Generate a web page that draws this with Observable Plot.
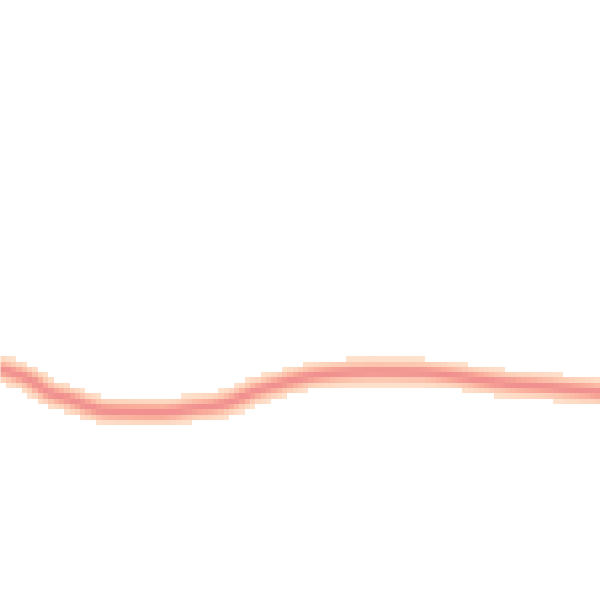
<!DOCTYPE html>
<html>
<head>
<meta charset="utf-8">
<script src="https://cdn.jsdelivr.net/npm/d3@7"></script>
<script src="https://cdn.jsdelivr.net/npm/@observablehq/plot@0.6"></script>
<style>
  html, body { margin: 0; padding: 0; background: #fff; }
  #chart svg { display: block; }
</style>
</head>
<body>
<div id="chart"></div>
<script>
// Centre line of the band (x 0–100, y 0–100 upward)
const curveX = [0, 5, 8, 11, 18, 27, 32, 38, 40, 42, 45.5, 54, 62, 70, 75, 83, 92, 100];
const curveY = [38.5, 36.7, 34.7, 33.7, 31.6, 31.4, 32, 33, 33.8, 34.7, 35.8, 37.7, 38.1, 38, 37.5, 36.3, 35.5, 34.7];

const W = 600, H = 600;
const xs = d3.scaleLinear([0, 100], [0, W]);
const ys = d3.scaleLinear([0, 100], [H, 0]);

// Sample the smooth centre line densely
const svgNS = "http://www.w3.org/2000/svg";
const tmpSvg = document.createElementNS(svgNS, "svg");
tmpSvg.setAttribute("style", "position:absolute;width:0;height:0");
document.body.appendChild(tmpSvg);
const path = document.createElementNS(svgNS, "path");
path.setAttribute("d", d3.line().curve(d3.curveMonotoneX)(curveX.map((x, i) => [xs(x), ys(curveY[i])])));
tmpSvg.appendChild(path);
const len = path.getTotalLength();
const samples = [];
for (let s = 0; s <= len; s += 1) { const p = path.getPointAtLength(s); samples.push([p.x, p.y]); }
tmpSvg.remove();

const sigma = 9.5;
function intensity(x, y) {
  const px = xs(x), py = ys(y);
  let best = Infinity;
  for (const [sx, sy] of samples) {
    const dx = sx - px, dy = sy - py;
    const d = dx * dx + dy * dy;
    if (d < best) best = d;
  }
  const v = Math.exp(-best / (sigma * sigma));
  return v < 0.12 ? null : v;
}

const chart = Plot.plot({
  width: W,
  height: H,
  margin: 0,
  x: {domain: [0, 100], axis: null},
  y: {domain: [0, 100], axis: null},
  color: {type: "linear", domain: [0.12, 0.4, 0.75, 1], range: ["#fee2cd", "#fdd0b8", "#f9ad9a", "#f09090"]},
  marks: [
    Plot.raster({
      x1: 0, x2: 100, y1: 0, y2: 100,
      fill: intensity,
      pixelSize: 16 / 3,
      imageRendering: "pixelated"
    })
  ]
});
document.getElementById("chart").appendChild(chart);
</script>
</body>
</html>
